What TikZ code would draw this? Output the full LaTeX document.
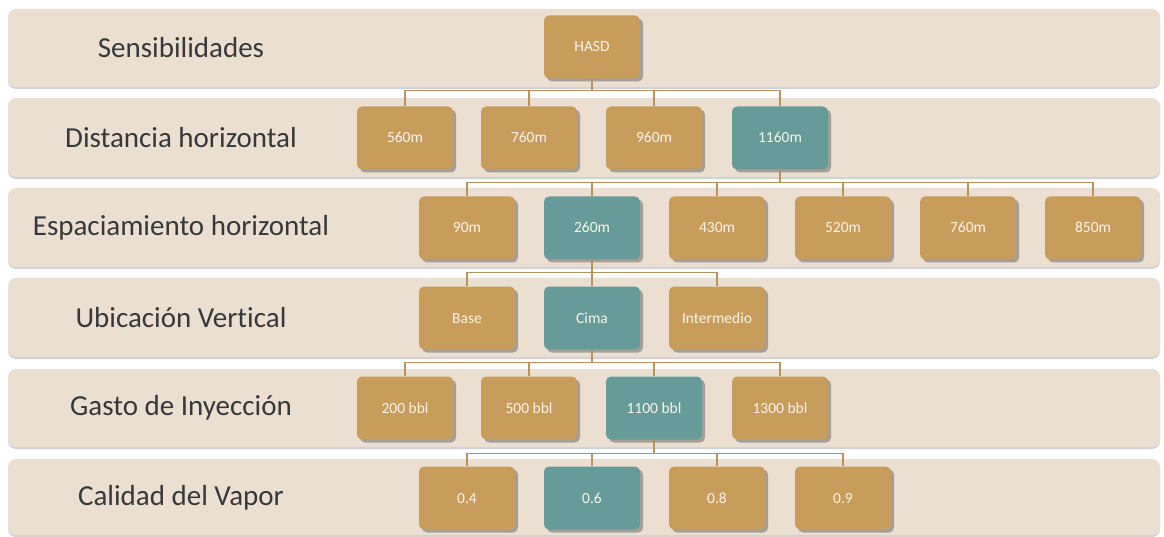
\documentclass[tikz,border=0pt]{standalone}
\usepackage{fontspec}
\setmainfont[Ligatures=NoCommon]{Carlito}
\usetikzlibrary{shadows}
\definecolor{bandc}{HTML}{EBDFD2}
\definecolor{goldc}{HTML}{C89D5C}
\definecolor{tealc}{HTML}{679B99}
\definecolor{linec}{HTML}{B8935E}
\definecolor{labelc}{HTML}{383838}
\definecolor{boxtext}{HTML}{FAF4EA}
\tikzset{
  band/.style={rounded corners=8pt, fill=bandc, drop shadow={shadow xshift=0pt, shadow yshift=-2pt, opacity=0.35, fill=gray}},
  box/.style={rounded corners=5pt, fill=goldc, minimum width=96pt, minimum height=63pt, inner sep=0pt, text height=10pt, text depth=0pt, text=boxtext, font=\fontsize{15.5}{18}\selectfont, drop shadow={shadow xshift=3pt, shadow yshift=-3pt, opacity=0.4, fill=black!75}},
  hl/.style={box, fill=tealc},
  lbl/.style={font=\fontsize{29}{34}\selectfont, text=labelc},
  conn/.style={draw=linec, line width=1.4pt}
}
\begin{document}
\begin{tikzpicture}[x=1pt, y=-1pt]
\useasboundingbox (0,0) rectangle (1164,537);
\fill[white] (0,0) rectangle (1164,537);
% bands
\path[band] (8,9) rectangle (1160,87);
\path[band] (8,98) rectangle (1160,177);
\path[band] (8,188) rectangle (1160,267);
\path[band] (8,278) rectangle (1160,357);
\path[band] (8,369) rectangle (1160,447);
\path[band] (8,459) rectangle (1160,535);
% labels
\node[lbl] (l1) at (181,48) {Sensibilidades};
\node[lbl] (l2) at (181,138) {Distancia horizontal};
\node[lbl] (l3) at (181,228) {Espaciamiento horizontal};
\node[lbl] (l4) at (181,318) {Ubicación Vertical};
\node[lbl] (l5) at (181,408) {Gasto de Inyección};
\node[lbl] (l6) at (181,498) {Calidad del Vapor};
% row 1
\node[box] (hasd) at (592,47) {HASD};
% row 2
\node[box] (d560) at (405,138) {560m};
\node[box] (d760) at (529,138) {760m};
\node[box] (d960) at (654,138) {960m};
\node[hl]  (d1160) at (780,138) {1160m};
% row 3
\node[box] (e90) at (467,228) {90m};
\node[hl]  (e260) at (592,228) {260m};
\node[box] (e430) at (717,228) {430m};
\node[box] (e520) at (843,228) {520m};
\node[box] (e760) at (968,228) {760m};
\node[box] (e850) at (1093,228) {850m};
% row 4
\node[box] (base) at (467,318) {Base};
\node[hl]  (cima) at (592,318) {Cima};
\node[box] (inter) at (717,318) {Intermedio};
% row 5
\node[box] (g200) at (405,408) {200 bbl};
\node[box] (g500) at (529,408) {500 bbl};
\node[hl]  (g1100) at (654,408) {1100 bbl};
\node[box] (g1300) at (780,408) {1300 bbl};
% row 6
\node[box] (c4) at (467,498) {0.4};
\node[hl]  (c6) at (592,498) {0.6};
\node[box] (c8) at (717,498) {0.8};
\node[box] (c9) at (843,498) {0.9};
% connectors
\foreach \c in {d560,d760,d960,d1160} \draw[conn] (hasd.south) -- ++(0,12) -| (\c.north);
\foreach \c in {e90,e260,e430,e520,e760,e850} \draw[conn] (d1160.south) -- ++(0,13) -| (\c.north);
\foreach \c in {base,cima,inter} \draw[conn] (e260.south) -- ++(0,13) -| (\c.north);
\foreach \c in {g200,g500,g1100,g1300} \draw[conn] (cima.south) -- ++(0,13) -| (\c.north);
\foreach \c in {c4,c6,c8,c9} \draw[conn] (g1100.south) -- ++(0,14) -| (\c.north);
\end{tikzpicture}
\end{document}
